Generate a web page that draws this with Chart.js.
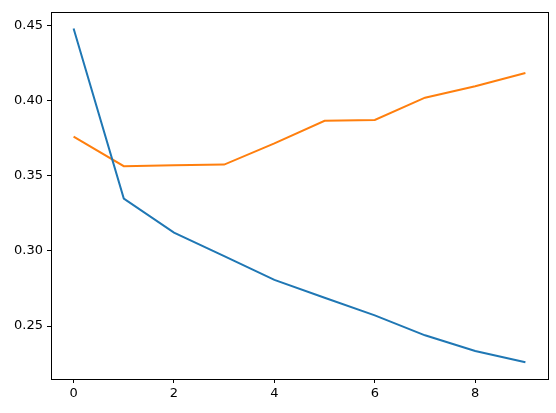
<!DOCTYPE html>
<html>
<head>
<meta charset="utf-8">
<script src="https://cdn.jsdelivr.net/npm/chart.js@4"></script>
<style>
  html, body { margin: 0; padding: 0; background: #fff; }
</style>
</head>
<body>
<canvas id="chart" width="556" height="413"></canvas>
<script>
// epochs and the two series
const epochs = [0, 1, 2, 3, 4, 5, 6, 7, 8, 9];
const blueValues = [0.4482, 0.3349, 0.3122, 0.2966, 0.2807, 0.2688, 0.2571, 0.2438, 0.2333, 0.2258];
const orangeValues = [0.3761, 0.3565, 0.3571, 0.3575, 0.3716, 0.3867, 0.3873, 0.4021, 0.4097, 0.4185];
const xTicks = [0, 2, 4, 6, 8];
const yTicks = [0.25, 0.30, 0.35, 0.40, 0.45];

function toPoints(values) {
  return epochs.map((x, i) => ({ x: x, y: values[i] }));
}

// box round the plot area, like matplotlib's spines
const frame = {
  id: 'frame',
  afterDraw(chart) {
    const a = chart.chartArea;
    const ctx = chart.ctx;
    ctx.save();
    ctx.strokeStyle = '#000';
    ctx.lineWidth = 1;
    ctx.strokeRect(Math.round(a.left) + 0.5, Math.round(a.top) + 0.5,
      Math.round(a.right - a.left), Math.round(a.bottom - a.top));
    ctx.restore();
  }
};

const font = { family: 'DejaVu Sans', size: 13 };

const config = {
  type: 'line',
  data: {
    datasets: [{
      data: toPoints(blueValues),
      borderColor: '#1f77b4',
      borderWidth: 2,
      pointRadius: 0,
      tension: 0
    }, {
      data: toPoints(orangeValues),
      borderColor: '#ff7f0e',
      borderWidth: 2,
      pointRadius: 0,
      tension: 0
    }]
  },
  options: {
    responsive: false,
    animation: false,
    layout: { padding: { top: 10, right: 8, left: 0, bottom: 0 } },
    plugins: { legend: { display: false }, tooltip: { enabled: false } },
    scales: {
      x: {
        type: 'linear',
        min: -0.45,
        max: 9.45,
        afterBuildTicks: s => { s.ticks = xTicks.map(v => ({ value: v })); },
        afterFit: s => { s.height = 34; },
        grid: { drawOnChartArea: false, color: '#000', tickLength: 4, tickWidth: 1 },
        border: { display: false },
        ticks: { color: '#000', font: font, padding: 3, maxRotation: 0 }
      },
      y: {
        type: 'linear',
        min: 0.2147,
        max: 0.4593,
        afterBuildTicks: s => { s.ticks = yTicks.map(v => ({ value: v })); },
        afterFit: s => { s.width = 51; },
        grid: { drawOnChartArea: false, color: '#000', tickLength: 4, tickWidth: 1 },
        border: { display: false },
        ticks: { color: '#000', font: font, padding: 4, callback: v => v.toFixed(2) }
      }
    }
  },
  plugins: [frame]
};

new Chart(document.getElementById('chart'), config);
</script>
</body>
</html>
